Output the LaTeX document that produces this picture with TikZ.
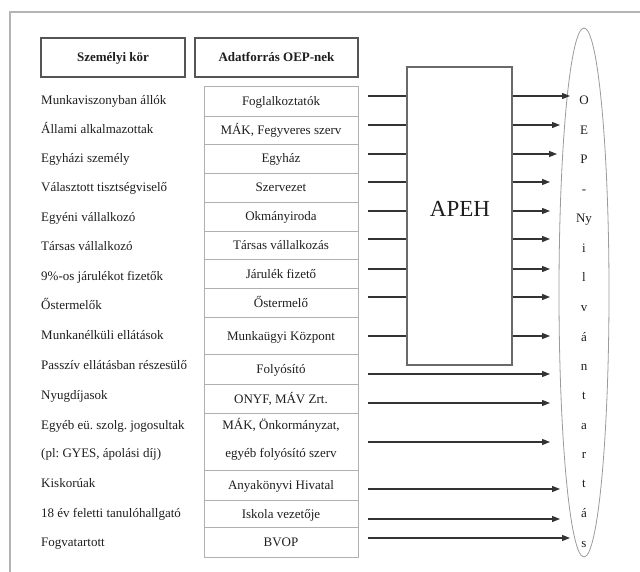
\documentclass[tikz,border=0pt]{standalone}
\usepackage{fontspec}
\setmainfont{Liberation Serif}
\usetikzlibrary{arrows.meta,shapes.geometric}
\definecolor{framegray}{HTML}{B4B4B4}
\definecolor{cellgray}{HTML}{B0B0B0}
\definecolor{boxgray}{HTML}{555555}
\definecolor{apehgray}{HTML}{6A6A6A}
\definecolor{ellgray}{HTML}{9A9A9A}
\definecolor{arrgray}{HTML}{333333}
\definecolor{txtgray}{HTML}{1E1E1E}
\frenchspacing
\begin{document}
\frenchspacing
\begin{tikzpicture}[x=1pt,y=-1pt,
  txt/.style={inner sep=0pt, text height=10.5pt, text depth=1.5pt, font=\fontsize{13}{15}\selectfont\frenchspacing, text=txtgray},
  lefttxt/.style={txt, anchor=west},
  cell/.style={txt, draw=cellgray, line width=0.8pt, minimum width=154pt},
  headbox/.style={draw=boxgray, line width=1.2pt, inner sep=0pt, text height=10.5pt, text depth=1.5pt, minimum height=39pt, font=\fontsize{13}{15}\selectfont\bfseries, text=txtgray},
  inline/.style={draw=arrgray, line width=1.1pt},
  arr/.style={draw=arrgray, line width=1.1pt, -{Triangle[length=8pt,width=6pt]}},
]
\useasboundingbox (0,0) rectangle (640,572);
% frame
\draw[framegray, line width=2.5pt] (10,573) -- (10,12) -- (641,12);

% headers
\node[headbox, minimum width=144pt] (h1) at (113,57.5) {Személyi kör};
\node[headbox, minimum width=163pt] (h2) at (276.5,57.5) {Adatforrás OEP-nek};

% left column
\node[lefttxt] (l1) at (41,100) {Munkaviszonyban állók};
\node[lefttxt] (l2) at (41,129) {Állami alkalmazottak};
\node[lefttxt] (l3) at (41,158) {Egyházi személy};
\node[lefttxt] (l4) at (41,187) {Választott tisztségviselő};
\node[lefttxt] (l5) at (41,217) {Egyéni vállalkozó};
\node[lefttxt] (l6) at (41,246) {Társas vállalkozó};
\node[lefttxt] (l7) at (41,276) {9\%-os járulékot fizetők};
\node[lefttxt] (l8) at (41,305) {Őstermelők};
\node[lefttxt] (l9) at (41,335) {Munkanélküli ellátások};
\node[lefttxt] (l10) at (41,365) {Passzív ellátásban részesülő};
\node[lefttxt] (l11) at (41,395) {Nyugdíjasok};
\node[lefttxt] (l12) at (41,425) {Egyéb eü. szolg. jogosultak};
\node[lefttxt] (l12b) at (41,453) {(pl: GYES, ápolási díj)};
\node[lefttxt] (l13) at (41,483) {Kiskorúak};
\node[lefttxt] (l14) at (41,513) {18 év feletti tanulóhallgató};
\node[lefttxt] (l15) at (41,542) {Fogvatartott};

% middle column cells
\node[cell, minimum height=30pt] (c1) at (281,101) {Foglalkoztatók};
\node[cell, minimum height=28pt] (c2) at (281,130) {MÁK, Fegyveres szerv};
\node[cell, minimum height=29pt] (c3) at (281,158.5) {Egyház};
\node[cell, minimum height=29pt] (c4) at (281,187.5) {Szervezet};
\node[cell, minimum height=29pt] (c5) at (281,216.5) {Okmányiroda};
\node[cell, minimum height=28pt] (c6) at (281,245) {Társas vállalkozás};
\node[cell, minimum height=29pt] (c7) at (281,273.5) {Járulék fizető};
\node[cell, minimum height=29pt] (c8) at (281,302.5) {Őstermelő};
\node[cell, minimum height=37pt] (c9) at (281,335.5) {Munkaügyi Központ};
\node[cell, minimum height=30pt] (c10) at (281,369) {Folyósító};
\node[cell, minimum height=29pt] (c11) at (281,398.5) {ONYF, MÁV Zrt.};
\node[cell, minimum height=57pt] (c12) at (281,441.5) {};
\node[txt] (c12a) at (281,425) {MÁK, Önkormányzat,};
\node[txt] (c12b) at (281,453) {egyéb folyósító szerv};
\node[cell, minimum height=30pt] (c13) at (281,485) {Anyakönyvi Hivatal};
\node[cell, minimum height=27pt] (c14) at (281,513.5) {Iskola vezetője};
\node[cell, minimum height=30pt] (c15) at (281,542) {BVOP};

% APEH box
\node[draw=apehgray, line width=1.3pt, minimum width=105pt, minimum height=298pt, inner sep=0pt] (apeh) at (459.5,216) {};
\node[inner sep=0pt, font=\fontsize{23}{26}\selectfont, text=txtgray] (apehtxt) at (460,209) {APEH};

% OEP ellipse
\node[ellipse, draw=ellgray, line width=0.8pt, minimum width=50pt, minimum height=529pt, inner sep=0pt] (oep) at (584,292.5) {};
\foreach \t/\yy [count=\i] in {O/100,E/130,P/159,-/189,Ny/218,i/248,l/277,v/307,á/337,n/366,t/395,a/425,r/454,t/483,á/513,s/543}
  \node[txt] (oep\i) at (584,\yy) {\t};

% arrows through APEH
\foreach \yy/\tip [count=\i] in {96/570,125/560,154/557,182/550,211/550,239/550,269/550,297/550,336/550}{
  \coordinate (in\i) at (368,\yy);
  \coordinate (out\i) at (\tip,\yy);
  \draw[inline] (in\i) -- (in\i -| apeh.west);
  \draw[arr] (out\i -| apeh.east) -- (out\i);
}
% direct arrows
\foreach \yy/\tip [count=\i from 10] in {374/550,403/550,442/550,489/560,519/560,538/570}{
  \coordinate (in\i) at (368,\yy);
  \coordinate (out\i) at (\tip,\yy);
  \draw[arr] (in\i) -- (out\i);
}
\end{tikzpicture}
\end{document}
